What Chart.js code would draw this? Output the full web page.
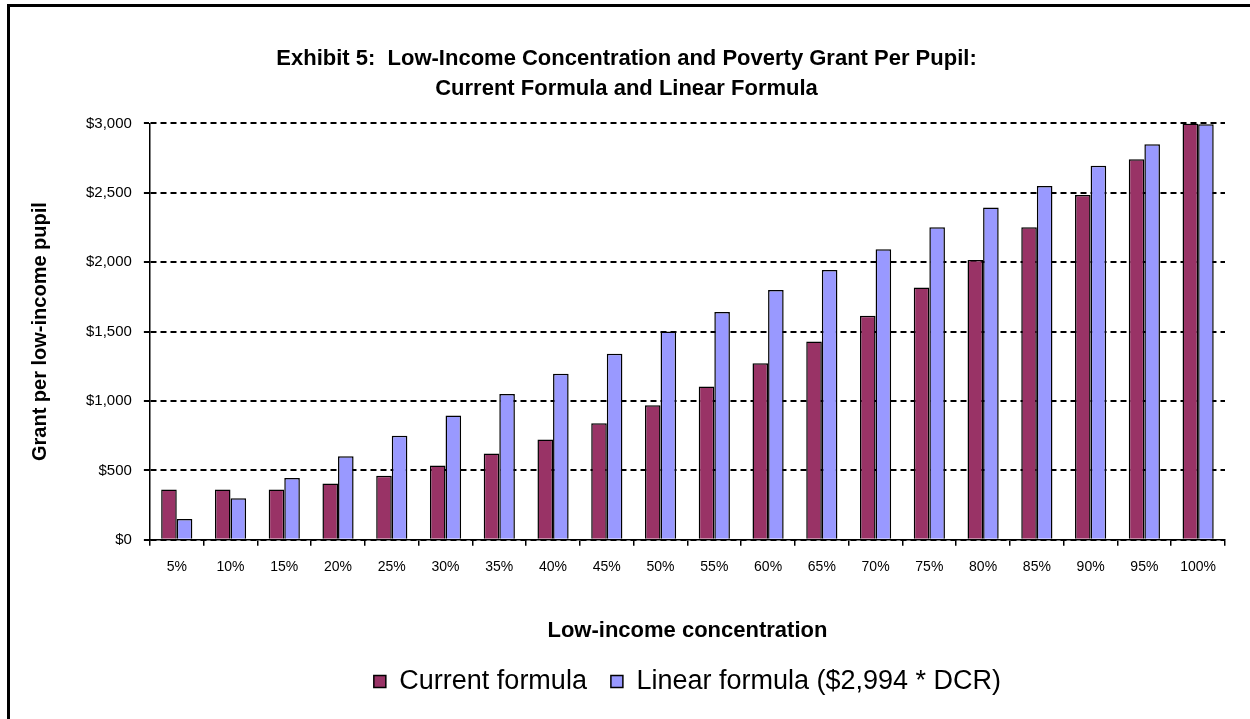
<!DOCTYPE html>
<html>
<head>
<meta charset="utf-8">
<script src="https://cdn.jsdelivr.net/npm/chart.js@4.4.1/dist/chart.umd.min.js"></script>
<style>
  body { margin: 0; background: #fff; }
  #wrap { position: relative; width: 1250px; height: 719px; }
  #frame { position: absolute; left: 7px; top: 4px; right: 0; bottom: 0;
           border-left: 3px solid #000; border-top: 3px solid #000; pointer-events: none; }
</style>
</head>
<body>
<div id="wrap">
  <canvas id="bar-chart" width="1250" height="719"></canvas>
  <div id="frame"></div>
</div>
<script>
// low-income concentration categories
var labels = ["5%", "10%", "15%", "20%", "25%", "30%", "35%", "40%", "45%", "50%",
              "55%", "60%", "65%", "70%", "75%", "80%", "85%", "90%", "95%", "100%"];

// grant per low-income pupil
var currentFormula = [362, 362, 362, 405, 462, 535, 622, 722, 840, 970,
                      1105, 1272, 1428, 1615, 1817, 2016, 2251, 2484, 2741, 3000];
var linearFormula = [150, 300, 446, 602, 749, 896, 1051, 1196, 1341, 1500,
                     1642, 1800, 1944, 2093, 2251, 2394, 2549, 2695, 2850, 2994];

var narrow = "'Liberation Sans Narrow', 'Arial Narrow', 'Liberation Sans', Arial, sans-serif";
var sans = "'Liberation Sans', Arial, sans-serif";

new Chart(document.getElementById("bar-chart"), {
	type: 'bar',
	data: {
		labels: labels,
		datasets: [
			{
				label: "Current formula",
				backgroundColor: "#993366",
				borderColor: "#000000",
				borderWidth: 1.5,
				data: currentFormula
			},
			{
				label: "Linear formula ($2,994 * DCR)",
				backgroundColor: "#9999ff",
				borderColor: "#000000",
				borderWidth: 1.5,
				data: linearFormula
			}
		]
	},
	options: {
		responsive: false,
		animation: false,
		maintainAspectRatio: false,
		datasets: {
			bar: { categoryPercentage: 0.58, barPercentage: 1.0 }
		},
		layout: {
			padding: { left: 28, right: 25, top: 0, bottom: 14 }
		},
		plugins: {
			title: {
				display: true,
				text: ["Exhibit 5:  Low-Income Concentration and Poverty Grant Per Pupil:",
				       "Current Formula and Linear Formula"],
				color: "#000",
				font: { family: narrow, size: 22, weight: 'bold', lineHeight: 1.35 },
				padding: { top: 44, bottom: 20 }
			},
			legend: {
				position: 'bottom',
				fullSize: false,
				labels: {
					color: "#000",
					font: { family: sans, size: 27 },
					boxWidth: 12,
					boxHeight: 12,
					padding: 24
				}
			},
			tooltip: { enabled: false }
		},
		scales: {
			x: {
				grid: { drawOnChartArea: false, color: "#000", lineWidth: 1.5, tickLength: 6 },
				border: { color: "#000", width: 1.5 },
				ticks: { color: "#000", font: { family: sans, size: 14 }, padding: 13, maxRotation: 0 },
				title: {
					display: true,
					text: "Low-income concentration",
					color: "#000",
					font: { family: narrow, size: 22, weight: 'bold' },
					padding: { top: 29, bottom: 0 }
				}
			},
			y: {
				min: 0,
				max: 3000,
				grid: { color: "#000", lineWidth: 2, tickLength: 6 },
				border: { color: "#000", width: 1.5, dash: [6, 4] },
				ticks: {
					stepSize: 500,
					color: "#000",
					font: { family: sans, size: 15 },
					padding: 12,
					callback: function(v) { return "$" + v.toLocaleString("en-US"); }
				},
				title: {
					display: true,
					text: "Grant per low-income pupil",
					color: "#000",
					font: { family: sans, size: 20, weight: 'bold' },
					padding: { top: 0, bottom: 22 }
				}
			}
		}
	}
});
</script>
</body>
</html>
